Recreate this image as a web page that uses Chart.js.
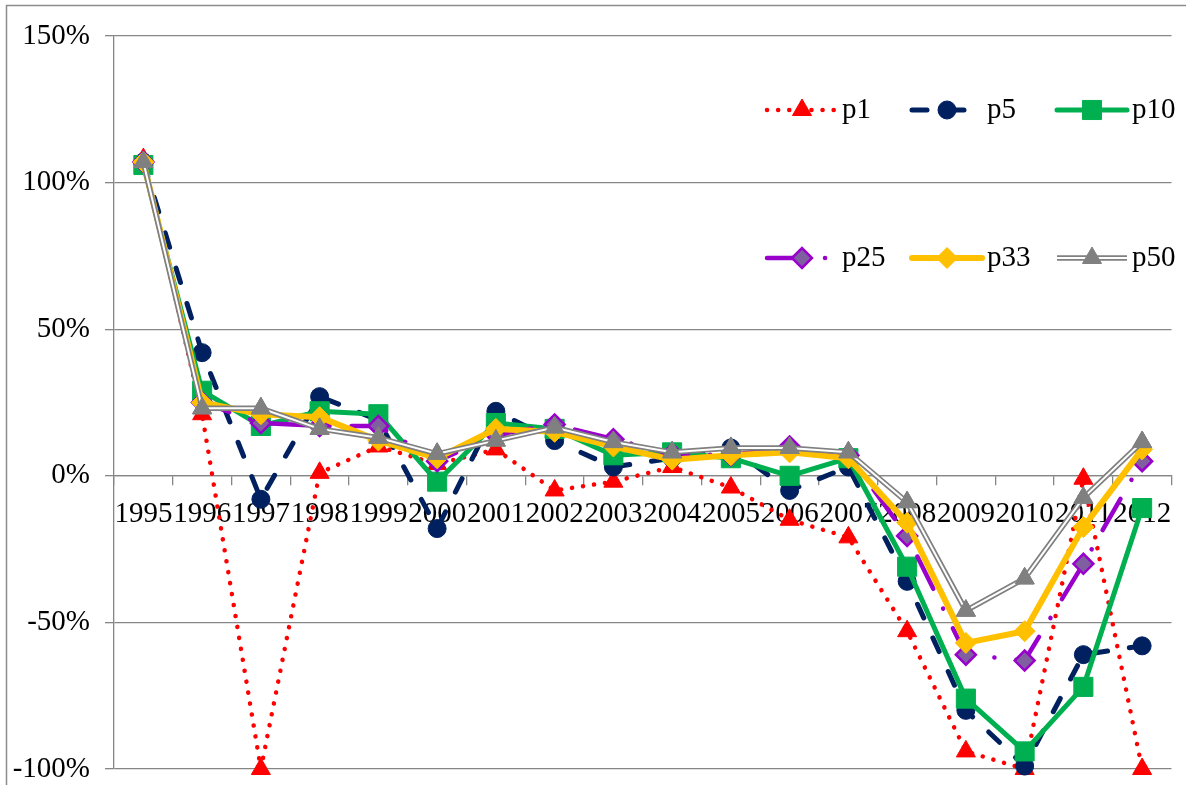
<!DOCTYPE html>
<html>
<head>
<meta charset="utf-8">
<script src="https://cdn.jsdelivr.net/npm/chart.js@4/dist/chart.umd.min.js"></script>
<style>
  html, body { margin: 0; padding: 0; background: #ffffff; }
  #wrap { width: 1186px; height: 785px; position: relative; }
</style>
</head>
<body>
<div id="wrap"><canvas id="chart" width="1186" height="785"></canvas></div>
<script>
// Categories and series (percent change per year)
const years = ['1995','1996','1997','1998','1999','2000','2001','2002','2003',
               '2004','2005','2006','2007','2008','2009','2010','2011','2012'];

const p1  = [108, 21, -100, 1, 10, 4, 9, -5, -2, 3, -4, -15, -21, -53, -94, -100, -1, -100];
const p5  = [107, 42, -8, 27, 19, -18, 22, 12, 3, 6, 9.5, -5, 3, -36, -80, -99, -61, -58];
const p10 = [106, 29, 17, 22, 21, -2, 18, 16, 7, 8, 6, 0, 6, -31, -76, -94, -72, -11];
const p25 = [107, 25, 18, 17, 17, 5, 14, 17.5, 12.5, 7.5, 7, 10, 7, -20.5, -61, -63, -30, 5];
const p33 = [107, 25, 21, 20, 12, 6, 16, 15, 10, 5.5, 7, 8, 6, -16, -57, -53, -17.5, 9];
const p50 = [107, 23, 23, 16, 13, 7.5, 12, 16.5, 11.5, 8, 9.5, 9.5, 8, -9, -46, -35, -7.5, 11.5];

const seriesNames = ['p1', 'p5', 'p10', 'p25', 'p33', 'p50'];
const yTickValues = [-100, -50, 0, 50, 100, 150];

const AXIS_GRAY = '#868686';
const FONT = '"Liberation Serif", "Times New Roman", serif';

// Frame around the whole chart
const framePlugin = {
  id: 'frame',
  beforeDraw(chart) {
    const ctx = chart.ctx;
    ctx.save();
    ctx.fillStyle = '#ffffff';
    ctx.fillRect(0, 0, chart.width, chart.height);
    ctx.strokeStyle = '#8c8c8c';
    ctx.lineWidth = 1.5;
    ctx.strokeRect(6.5, 5.5, chart.width + 20, chart.height + 20);
    ctx.restore();
  }
};

// White core of the double line, then the markers again on top
const doubleLinePlugin = {
  id: 'doubleLine',
  afterDatasetDraw(chart, args, opts) {
    if (args.index !== opts.datasetIndex) return;
    const meta = args.meta;
    const ctx = chart.ctx;
    ctx.save();
    ctx.strokeStyle = '#ffffff';
    ctx.lineWidth = opts.innerWidth;
    ctx.lineJoin = 'miter';
    ctx.beginPath();
    meta.data.forEach((pt, i) => {
      if (i === 0) ctx.moveTo(pt.x, pt.y); else ctx.lineTo(pt.x, pt.y);
    });
    ctx.stroke();
    ctx.restore();
    meta.data.forEach(pt => pt.draw(ctx, chart.chartArea));
  }
};

// Legend drawn inside the plot: two rows of three entries
const insideLegendPlugin = {
  id: 'insideLegend',
  afterDatasetsDraw(chart, args, opts) {
    const ctx = chart.ctx;
    chart.data.datasets.forEach((ds, i) => {
      const meta = chart.getDatasetMeta(i);
      const lineOpts = meta.dataset.options;
      const ptOpts = meta.data[0].options;
      const y = opts.rows[Math.floor(i / 3)];
      const x0 = opts.cols[i % 3];
      ctx.save();
      ctx.strokeStyle = lineOpts.borderColor;
      ctx.lineWidth = lineOpts.borderWidth;
      ctx.lineCap = lineOpts.borderCapStyle;
      ctx.setLineDash(lineOpts.borderDash || []);
      ctx.beginPath();
      ctx.moveTo(x0, y);
      ctx.lineTo(x0 + opts.lineLen, y);
      ctx.stroke();
      if (i === chart.options.plugins.doubleLine.datasetIndex) {
        ctx.setLineDash([]);
        ctx.strokeStyle = '#ffffff';
        ctx.lineWidth = chart.options.plugins.doubleLine.innerWidth;
        ctx.beginPath();
        ctx.moveTo(x0, y);
        ctx.lineTo(x0 + opts.lineLen, y);
        ctx.stroke();
      }
      ctx.setLineDash([]);
      ctx.lineCap = 'butt';
      ctx.fillStyle = ptOpts.backgroundColor;
      ctx.strokeStyle = ptOpts.borderColor;
      ctx.lineWidth = ptOpts.borderWidth;
      Chart.helpers.drawPoint(ctx, ptOpts, x0 + opts.lineLen / 2, y);
      ctx.fillStyle = '#000000';
      ctx.font = opts.fontSize + 'px ' + FONT;
      ctx.textBaseline = 'middle';
      ctx.textAlign = 'left';
      ctx.fillText(ds.label, x0 + opts.textGap, y);
      ctx.restore();
    });
  }
};

function series(label, data, style) {
  return Object.assign({
    label,
    data,
    tension: 0,
    clip: false,
    fill: false,
    borderCapStyle: 'round',
    borderJoinStyle: 'round',
    pointHoverRadius: 0
  }, style);
}

const datasets = [
  series(seriesNames[0], p1, {
    order: 6, borderColor: '#ff0000', borderWidth: 4.5, borderDash: [0.1, 11],
    pointStyle: 'triangle', pointRadius: 11,
    pointBackgroundColor: '#ff0000', pointBorderColor: '#ff0000', pointBorderWidth: 1
  }),
  series(seriesNames[1], p5, {
    order: 5, borderColor: '#002060', borderWidth: 5, borderDash: [15, 22],
    pointStyle: 'circle', pointRadius: 9,
    pointBackgroundColor: '#002060', pointBorderColor: '#002060', pointBorderWidth: 1
  }),
  series(seriesNames[2], p10, {
    order: 4, borderColor: '#00b050', borderWidth: 5, borderCapStyle: 'round',
    pointStyle: 'rect', pointRadius: 13.5,
    pointBackgroundColor: '#00b050', pointBorderColor: '#00b050', pointBorderWidth: 1
  }),
  series(seriesNames[3], p25, {
    order: 3, borderColor: '#9900cc', borderWidth: 4.5, borderDash: [36, 22, 0.1, 22],
    pointStyle: 'rectRot', pointRadius: 10,
    pointBackgroundColor: '#7f5f9f', pointBorderColor: '#9900cc', pointBorderWidth: 2.5
  }),
  series(seriesNames[4], p33, {
    order: 2, borderColor: '#ffc000', borderWidth: 6,
    pointStyle: 'rectRot', pointRadius: 10.5,
    pointBackgroundColor: '#ffc000', pointBorderColor: '#ffc000', pointBorderWidth: 1
  }),
  series(seriesNames[5], p50, {
    order: 1, borderColor: '#808080', borderWidth: 5.5, borderJoinStyle: 'miter', borderCapStyle: 'butt',
    pointStyle: 'triangle', pointRadius: 11,
    pointBackgroundColor: '#808080', pointBorderColor: '#808080', pointBorderWidth: 1
  })
];

Chart.defaults.font.family = FONT;
Chart.defaults.color = '#000000';

new Chart(document.getElementById('chart'), {
  type: 'line',
  data: { labels: years, datasets },
  plugins: [framePlugin, doubleLinePlugin, insideLegendPlugin],
  options: {
    responsive: false,
    devicePixelRatio: 1,
    animation: false,
    events: [],
    layout: { padding: { left: 0, top: 36, right: 5, bottom: 16 } },
    plugins: {
      legend: { display: false },
      tooltip: { enabled: false },
      doubleLine: { datasetIndex: 5, innerWidth: 2 },
      insideLegend: { rows: [110, 258], cols: [767, 912, 1057], lineLen: 70, textGap: 75, fontSize: 29 }
    },
    scales: {
      x: {
        type: 'category',
        position: { y: 0 },
        offset: true,
        grid: {
          display: true, drawOnChartArea: false, drawTicks: true,
          tickLength: 9, offset: true, color: AXIS_GRAY, lineWidth: 1.3
        },
        border: { display: true, color: AXIS_GRAY, width: 1.3 },
        ticks: {
          autoSkip: false, maxRotation: 0, minRotation: 0, padding: 12,
          font: { size: 29, family: FONT }, color: '#000000'
        },
        afterFit(scale) {
          scale.height = 0;
          scale.paddingLeft = 0;
          scale.paddingRight = 0;
        }
      },
      y: {
        min: -100,
        max: 150,
        grid: { color: AXIS_GRAY, lineWidth: 1.3, tickLength: 9, drawTicks: true },
        border: { display: true, color: AXIS_GRAY, width: 1.3 },
        ticks: {
          padding: 15,
          font: { size: 29, family: FONT }, color: '#000000',
          callback: v => v + '%'
        },
        afterBuildTicks(scale) {
          scale.ticks = yTickValues.map(v => ({ value: v }));
        },
        afterFit(scale) {
          scale.width = 114;
          scale.paddingTop = 0;
          scale.paddingBottom = 0;
        }
      }
    }
  }
});
</script>
</body>
</html>
